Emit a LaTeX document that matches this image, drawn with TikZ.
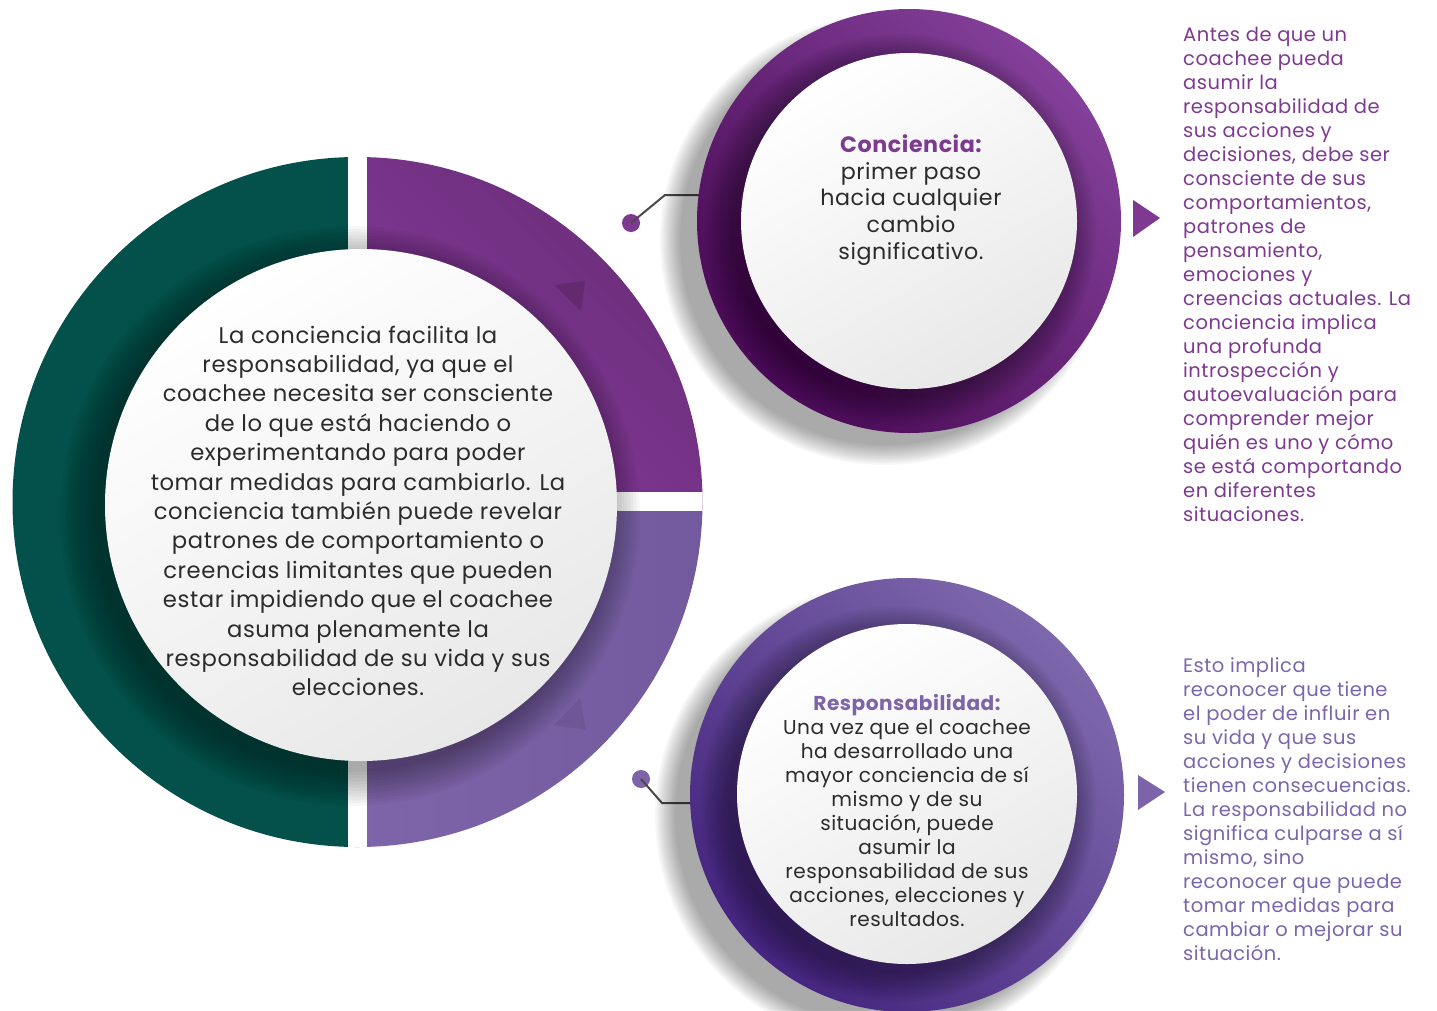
\documentclass[tikz,border=0pt]{standalone}
\usepackage{fontspec}
\setmainfont{Poppins}[LetterSpace=2.5]
\definecolor{tealring}{HTML}{04504A}
\definecolor{purpA}{HTML}{85399A}
\definecolor{purpB}{HTML}{692D77}
\definecolor{lavA}{HTML}{7E65A9}
\definecolor{lavB}{HTML}{735A9F}
\definecolor{topdark}{HTML}{4A0A56}
\definecolor{toplight}{HTML}{84409A}
\definecolor{botdark}{HTML}{45257F}
\definecolor{botlight}{HTML}{7E68AC}
\definecolor{txtgrey}{HTML}{2B2B2B}
\definecolor{titlepurp}{HTML}{7D3A91}
\definecolor{titlelav}{HTML}{7D64A8}
\definecolor{sidepurp}{HTML}{7E3A91}
\definecolor{sidelav}{HTML}{7C66AB}
\definecolor{linegrey}{HTML}{4A4A4A}
\newcommand{\softshadow}[4]{%
  \foreach \k in {0,...,11}{%
    \pgfmathsetmacro\rr{#3+#4*(1-\k/11)}%
    \fill[black,opacity=0.03] (#1,#2) circle (\rr pt);}}
\tikzset{
  whitedisk/.style={shade, shading=axis, top color=white, bottom color=black!9, shading angle=30},
  dotnode/.style={circle, inner sep=0pt, minimum size=18pt},
  conn/.style={draw=linegrey, line width=2pt},
  bigtext/.style={align=center, text=txtgrey, font={\fontsize{22.7}{29.4}\selectfont}},
  toptext/.style={align=center, text=txtgrey, font={\fontsize{22.2}{26.6}\selectfont}},
  bottext/.style={align=center, text=txtgrey, font={\fontsize{20.1}{24}\selectfont}},
  sidetext/.style={align=left, anchor=north west, inner sep=0pt, font={\fontsize{19.5}{24}\selectfont}},
  ringnode/.style={circle, inner sep=0pt}
}
\begin{document}
\begin{tikzpicture}[x=1pt,y=-1pt]
\useasboundingbox[fill=white] (0,0) rectangle (1437,1010);

% ---------------- connectors (under the rings)
\node[ringnode, minimum size=424pt] (topring) at (909,221) {};
\node[ringnode, minimum size=434pt] (botring) at (907,795) {};
\node[dotnode, fill=sidepurp] (dot1) at (631,223) {};
\node[dotnode, fill=titlelav] (dot2) at (641,779) {};
\coordinate (k1) at (665,195);
\coordinate (k2) at (662,803);
\draw[conn] (dot1.center) -- (k1) -- (k1 -| topring.center);
\draw[conn] (dot2.center) -- (k2) -- (k2 -| botring.center);

% ---------------- big circle
\coordinate (bc) at (357.5,502);
\begin{scope}
\clip (bc) circle (345pt);
\fill[tealring] (bc) -- ++(90:345pt) arc[start angle=90,end angle=270,radius=345pt] -- cycle;
\shade[left color=purpA, right color=purpB, shading angle=135]
  (bc) -- ++(0:345pt) arc[start angle=0,end angle=90,radius=345pt] -- cycle;
\shade[left color=lavA, right color=lavB, shading angle=90]
  (bc) -- ++(0:345pt) arc[start angle=0,end angle=-90,radius=345pt] -- cycle;
\fill[white] (348,150) rectangle (367,860);
\fill[white] (600,492) rectangle (710,511);
\softshadow{350}{516}{256}{34}
\end{scope}
\fill[purpB!85!black,opacity=0.6] (554,285) -- (585,281) -- (581,311) -- cycle;
\fill[lavB!90!black,opacity=0.6] (580,698) -- (554,725) -- (586,730) -- cycle;
\path[whitedisk] (361,505) circle (256pt);
\node[bigtext] (bigtxt) at (358,511) {La conciencia facilita la\\
responsabilidad, ya que el\\
coachee necesita ser consciente\\
de lo que está haciendo o\\
experimentando para poder\\
tomar medidas para cambiarlo. La\\
conciencia también puede revelar\\
patrones de comportamiento o\\
creencias limitantes que pueden\\
estar impidiendo que el coachee\\
asuma plenamente la\\
responsabilidad de su vida y sus\\
elecciones.};

% ---------------- top circle
\softshadow{885}{240}{205}{20}
\shade[left color=topdark, right color=toplight, shading angle=135] (topring.center) circle (212pt);
\begin{scope}
\clip (topring.center) circle (212pt);
\softshadow{900}{230}{168}{28}
\end{scope}
\path[whitedisk] (909,221) circle (168pt);
\node[toptext] (toptxt) at (911,200) {{\bfseries\color{titlepurp}Conciencia:}\\
primer paso\\
hacia cualquier\\
cambio\\
significativo.};
\fill[sidepurp] (1133,200) -- (1160,218) -- (1133,237) -- cycle;

% ---------------- bottom circle
\softshadow{885}{815}{210}{20}
\shade[left color=botdark, right color=botlight, shading angle=135] (botring.center) circle (217pt);
\begin{scope}
\clip (botring.center) circle (217pt);
\softshadow{898}{804}{170}{28}
\end{scope}
\path[whitedisk] (907,794) circle (170pt);
\node[bottext] (bottxt) at (907,811) {{\bfseries\color{titlelav}Responsabilidad:}\\
Una vez que el coachee\\
ha desarrollado una\\
mayor conciencia de sí\\
mismo y de su\\
situación, puede\\
asumir la\\
responsabilidad de sus\\
acciones, elecciones y\\
resultados.};
\fill[titlelav] (1138,775) -- (1165,792) -- (1138,810) -- cycle;

% ---------------- side texts
\node[sidetext, text=sidepurp] (side1) at (1183,27) {Antes de que un\\
coachee pueda\\
asumir la\\
responsabilidad de\\
sus acciones y\\
decisiones, debe ser\\
consciente de sus\\
comportamientos,\\
patrones de\\
pensamiento,\\
emociones y\\
creencias actuales. La\\
conciencia implica\\
una profunda\\
introspección y\\
autoevaluación para\\
comprender mejor\\
quién es uno y cómo\\
se está comportando\\
en diferentes\\
situaciones.};
\node[sidetext, text=sidelav] (side2) at (1183,657) {Esto implica\\
reconocer que tiene\\
el poder de influir en\\
su vida y que sus\\
acciones y decisiones\\
tienen consecuencias.\\
La responsabilidad no\\
significa culparse a sí\\
mismo, sino\\
reconocer que puede\\
tomar medidas para\\
cambiar o mejorar su\\
situación.};
\end{tikzpicture}
\end{document}
